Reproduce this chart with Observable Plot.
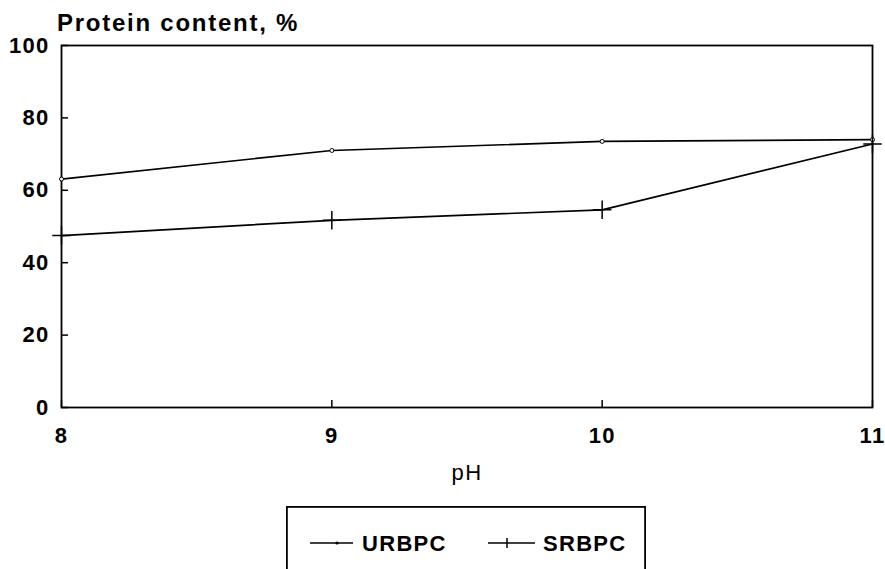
<!DOCTYPE html>
<html>
<head>
<meta charset="utf-8">
<script src="https://cdn.jsdelivr.net/npm/d3@7"></script>
<script src="https://cdn.jsdelivr.net/npm/@observablehq/plot@0.6"></script>
<style>
  html, body { margin: 0; padding: 0; background: #fff; }
  body { position: relative; width: 885px; height: 569px; overflow: hidden; font-family: "Liberation Sans", Arial, sans-serif; }
  #title { position: absolute; left: 57px; top: 11px; font-size: 24px; line-height: 24px; font-weight: bold; letter-spacing: 1.75px; color: #000; white-space: nowrap; }
  #chart { position: absolute; left: 0; top: 0; }
  #legend { position: absolute; left: 286px; top: 506px; }
</style>
</head>
<body>
<div id="chart"></div>
<div id="title"></div>
<div id="legend"></div>
<script>
// ---- data ----
const titleText = "Protein content, %";
const xLabel = "pH";
const pH = [8, 9, 10, 11];
const urbpc = [63.1, 71.0, 73.5, 74.0];
const srbpc = [47.5, 51.7, 54.6, 72.8];
const seriesNames = ["URBPC", "SRBPC"];
const seriesSymbols = ["circle", "plus"];
const xTicks = [8, 9, 10, 11];
const yTicks = [0, 20, 40, 60, 80, 100];

const rows = [];
pH.forEach((p, i) => rows.push({pH: p, value: urbpc[i], series: seriesNames[0]}));
pH.forEach((p, i) => rows.push({pH: p, value: srbpc[i], series: seriesNames[1]}));

document.getElementById("title").textContent = titleText;

const chart = Plot.plot({
  width: 885,
  height: 495,
  marginLeft: 61,
  marginRight: 13,
  marginTop: 45,
  marginBottom: 88,
  style: {fontFamily: "'Liberation Sans', Arial, sans-serif", fontSize: "22px", fontWeight: "bold", letterSpacing: "1.3px", color: "#000", background: "transparent", overflow: "visible"},
  x: {domain: [8, 11]},
  y: {domain: [0, 100]},
  marks: [
    Plot.axisY({ticks: yTicks, tickSize: -7, tickPadding: 19, label: null, strokeWidth: 1.5, tickFormat: d => d}),
    Plot.axisX({ticks: xTicks, tickSize: -7, tickPadding: 27, label: xLabel, labelArrow: "none", labelAnchor: "center", labelOffset: 72, strokeWidth: 1.5, tickFormat: d => d}),
    Plot.frame({stroke: "#000", strokeWidth: 1.8}),
    Plot.line(rows, {x: "pH", y: "value", z: "series", stroke: "#000", strokeWidth: 1.7}),
    Plot.dot(rows.filter(d => d.series === seriesNames[0]), {x: "pH", y: "value", r: 2, stroke: "#000", strokeWidth: 1, fill: "#fff"}),
    Plot.dot(rows.filter(d => d.series === seriesNames[1]), {x: "pH", y: "value", symbol: "plus", r: 6, stroke: "#000", strokeWidth: 1.5})
  ]
});
document.getElementById("chart").appendChild(chart);
d3.select(chart).selectAll("[aria-label='x-axis label'] text")
  .style("font-weight", "normal").style("font-size", "22px").style("letter-spacing", "1.5px");

// ---- legend ----
const lw = 360, lh = 80;
const lsvg = d3.select("#legend").append("svg").attr("width", lw).attr("height", lh);
lsvg.append("rect").attr("x", 0.9).attr("y", 0.9).attr("width", lw - 1.8).attr("height", lh + 10)
  .attr("fill", "none").attr("stroke", "#000").attr("stroke-width", 1.8);
const items = [
  {name: seriesNames[0], sym: seriesSymbols[0], x0: 24, x1: 67, mx: 51, tx: 76},
  {name: seriesNames[1], sym: seriesSymbols[1], x0: 202, x1: 249, mx: 221, tx: 257}
];
items.forEach(it => {
  const g = lsvg.append("g");
  g.append("line").attr("x1", it.x0).attr("x2", it.x1).attr("y1", 37).attr("y2", 37).attr("stroke", "#000").attr("stroke-width", 1.7);
  if (it.sym === "circle") {
    g.append("circle").attr("cx", it.mx).attr("cy", 37).attr("r", 1.6).attr("fill", "#000");
  } else {
    g.append("line").attr("x1", it.mx).attr("x2", it.mx).attr("y1", 32).attr("y2", 42).attr("stroke", "#000").attr("stroke-width", 1.5);
  }
  g.append("text").attr("x", it.tx).attr("y", 45).text(it.name)
    .attr("font-family", "'Liberation Sans', Arial, sans-serif").attr("font-size", 22).attr("font-weight", "bold")
    .attr("letter-spacing", "1.3px").attr("fill", "#000");
});
</script>
</body>
</html>
